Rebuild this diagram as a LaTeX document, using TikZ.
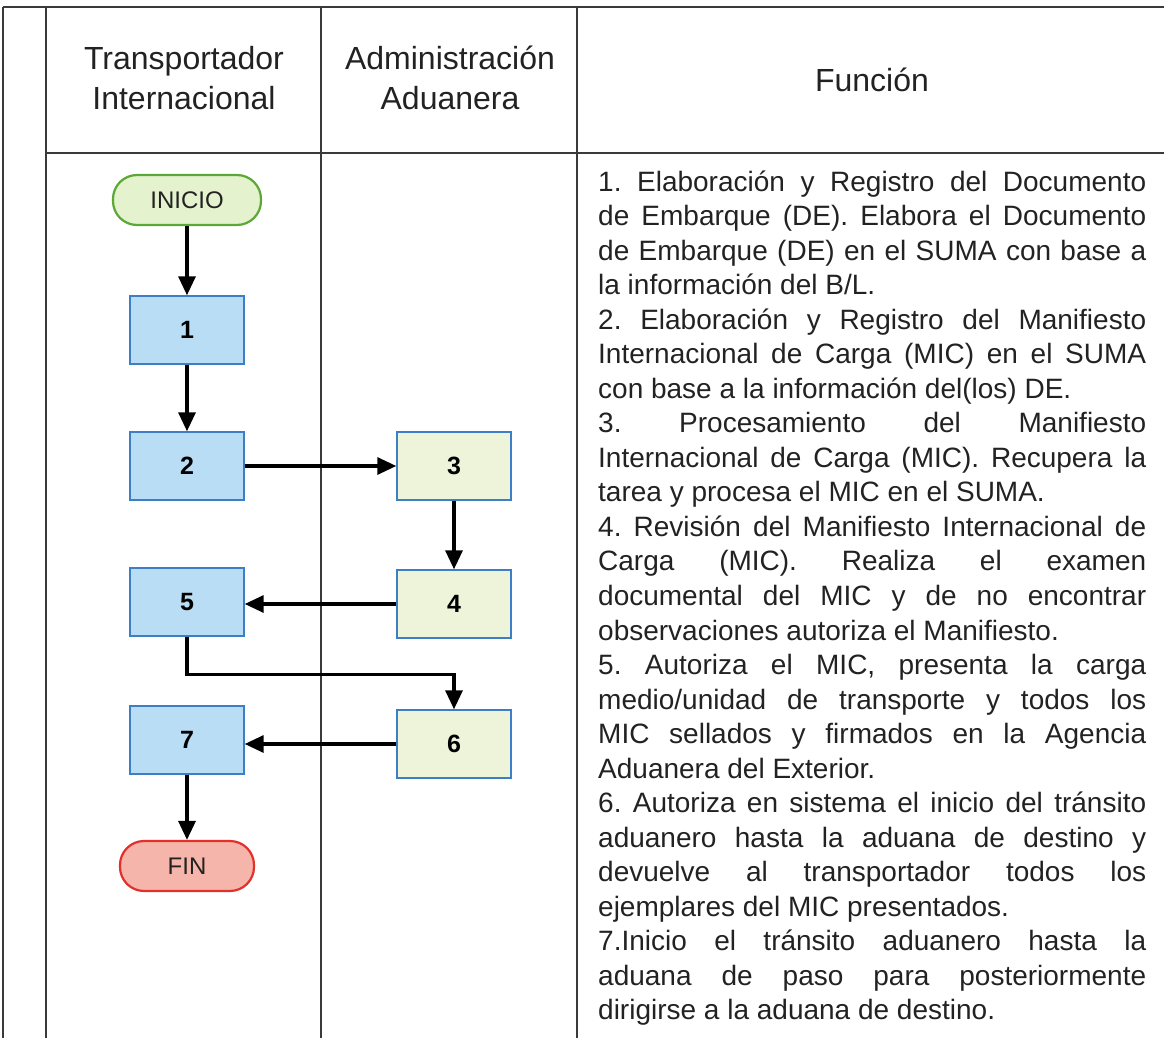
\documentclass[tikz,border=0pt]{standalone}
\usepackage{fontspec}
\setmainfont{Liberation Sans}
\usetikzlibrary{arrows.meta}
\definecolor{bluefill}{HTML}{B9DDF4}
\definecolor{blueline}{HTML}{3C7FC6}
\definecolor{greenfill}{HTML}{EDF4DA}
\definecolor{startfill}{HTML}{E4F2CE}
\definecolor{startline}{HTML}{5CA836}
\definecolor{endfill}{HTML}{F5B5AA}
\definecolor{endline}{HTML}{E2302A}
\definecolor{gridline}{HTML}{3A3A3A}
\definecolor{txt}{HTML}{222222}
\tikzset{
  procA/.style={draw=blueline, fill=bluefill, line width=1.4pt, minimum width=114pt,
    minimum height=68pt, inner sep=0pt, text=black, font=\fontsize{25}{25}\selectfont\bfseries},
  procB/.style={procA, fill=greenfill},
  term/.style={rounded corners=24pt, minimum height=50pt, line width=2.2pt, inner sep=0pt,
    text=txt, font=\fontsize{24}{24}\selectfont},
  flow/.style={line width=3.2pt, draw=black, -{Triangle[length=19pt,width=17pt]}},
  grid/.style={draw=gridline, line width=1.4pt},
  hdr/.style={align=center, inner sep=0pt, text=txt, font=\fontsize{32}{40}\selectfont}
}
\begin{document}
\begin{tikzpicture}[x=1pt,y=-1pt]
\useasboundingbox (0,0) rectangle (1164,1038);
% table grid
\draw[grid, line width=2pt] (3,7) -- (1164,7);
\draw[grid, line width=2pt] (46,153) -- (1164,153);
\draw[grid] (3,7) -- (3,1038);
\draw[grid] (46,7) -- (46,1038);
\draw[grid] (321,7) -- (321,1038);
\draw[grid] (577,7) -- (577,1038);
% headers
\node[hdr] (h1) at (184,78) {Transportador\\Internacional};
\node[hdr] (h2) at (450,78) {Administración\\Aduanera};
\node[hdr] (h3) at (872,80) {Función};
% flow nodes
\node[term, draw=startline, fill=startfill, minimum width=148pt] (ini) at (187,200) {INICIO};
\node[procA] (n1) at (187,330) {1};
\node[procA] (n2) at (187,466) {2};
\node[procB] (n3) at (454,466) {3};
\node[procB] (n4) at (454,604) {4};
\node[procA] (n5) at (187,602) {5};
\node[procB] (n6) at (454,744) {6};
\node[procA] (n7) at (187,740) {7};
\node[term, draw=endline, fill=endfill, minimum width=134pt] (fin) at (187,866) {FIN};
% connectors
\draw[flow] (ini) -- (n1);
\draw[flow] (n1) -- (n2);
\draw[flow] (n2) -- (n3);
\draw[flow] (n3) -- (n4);
\draw[flow] (n4.west) -- (n4.west -| n5.east);
\draw[flow] (n5.south) -- ++(0,38) -| (n6.north);
\draw[flow] (n6.west) -- (n6.west -| n7.east);
\draw[flow] (n7) -- (fin);
% description text
\node[anchor=base west, inner sep=0pt, text=txt] (desc) at (598,191) {\parbox[t]{548pt}{%
\fontsize{28}{34.54}\selectfont\frenchspacing\setlength{\parindent}{0pt}\setlength{\parskip}{0pt}%
\tolerance=10000 \hbadness=10000 \emergencystretch=0pt
1. Elaboración y Registro del Documento\linebreak
de Embarque (DE). Elabora el Documento\linebreak
de Embarque (DE) en el SUMA con base a\linebreak
la información del B/L.\par
2. Elaboración y Registro del Manifiesto\linebreak
Internacional de Carga (MIC) en el SUMA\linebreak
con base a la información del(los) DE.\par
3. Procesamiento del Manifiesto\linebreak
Internacional de Carga (MIC). Recupera la\linebreak
tarea y procesa el MIC en el SUMA.\par
4. Revisión del Manifiesto Internacional de\linebreak
Carga (MIC). Realiza el examen\linebreak
documental del MIC y de no encontrar\linebreak
observaciones autoriza el Manifiesto.\par
5. Autoriza el MIC, presenta la carga\linebreak
medio/unidad de transporte y todos los\linebreak
MIC sellados y firmados en la Agencia\linebreak
Aduanera del Exterior.\par
6. Autoriza en sistema el inicio del tránsito\linebreak
aduanero hasta la aduana de destino y\linebreak
devuelve al transportador todos los\linebreak
ejemplares del MIC presentados.\par
7.Inicio el tránsito aduanero hasta la\linebreak
aduana de paso para posteriormente\linebreak
dirigirse a la aduana de destino.\par}};
\end{tikzpicture}
\end{document}
